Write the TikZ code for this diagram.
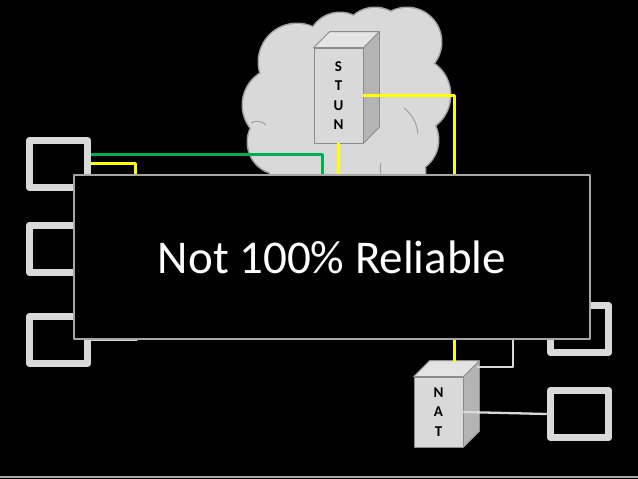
\documentclass[tikz,border=0pt]{standalone}
\usepackage{fontspec}
\setmainfont{Carlito}
\definecolor{lite}{HTML}{D9D9D9}
\definecolor{cloudrim}{HTML}{A0A0A0}
\definecolor{rim}{HTML}{A6A6A6}
\definecolor{facetop}{HTML}{E4E4E4}
\definecolor{faceside}{HTML}{B4B4B4}
\definecolor{edge}{HTML}{8C8C8C}
\definecolor{wire}{HTML}{FFFF00}
\definecolor{link}{HTML}{00B050}
\begin{document}
\begin{tikzpicture}[x=1pt, y=-1pt, line join=round,
    host/.style={draw=lite, line width=7.5pt, minimum width=58pt, minimum height=47pt, inner sep=0pt},
    server/.style={draw=edge, fill=lite, line width=.8pt, minimum width=49pt, inner sep=0pt,
        align=center, font=\bfseries\fontsize{15}{19.5}\selectfont},
    yel/.style={draw=wire, line width=3pt},
    grn/.style={draw=link, line width=3pt},
    gry/.style={draw=lite, line width=2.3pt}]
    \useasboundingbox (0,0) rectangle (638,479);
    \fill[black] (0,0) rectangle (638,479);
    % cloud
    \foreach \x/\y/\r in {297/62/38, 340/45/32, 375/40/32, 407/42/34, 412/95/38, 405/140/33,
        280/105/37, 280/142/32, 350/110/60, 345/178/60, 300/172/30, 395/172/30}
        \fill[cloudrim] (\x,\y) circle[radius=\r pt+1.5pt];
    \foreach \x/\y/\r in {297/62/38, 340/45/32, 375/40/32, 407/42/34, 412/95/38, 405/140/33,
        280/105/37, 280/142/32, 350/110/60, 345/178/60, 300/172/30, 395/172/30}
        \fill[lite] (\x,\y) circle[radius=\r pt];
    \draw[cloudrim, line width=1pt]
        (251,123) .. controls (256,120) and (262,121) .. (266,125)
        (404,108) .. controls (412,114) and (417,123) .. (418,134)
        (381,163) .. controls (380,166) and (380,170) .. (381,174);
    % hosts
    \node[host] (host1) at (58.5,164) {};
    \node[host] (host2) at (58.5,249) {};
    \node[host] (host3) at (58.5,340) {};
    \node[host] (host4) at (579.5,329) {};
    \node[host] (host5) at (579.5,414) {};
    % servers
    \node[server, minimum height=95pt] (stun) at (338.5,95.5) {S\\T\\U\\N};
    \node[server, minimum height=70pt] (nat) at (438.5,412) {N\\A\\T};
    \foreach \n in {stun,nat}{
        \filldraw[fill=faceside, draw=edge, line width=.8pt] (\n.north east) -- ([shift={(16,-16)}]\n.north east)
            -- ([shift={(16,-16)}]\n.south east) -- (\n.south east) -- cycle;
        \filldraw[fill=facetop, draw=edge, line width=.8pt] (\n.north west) -- ([shift={(16,-16)}]\n.north west)
            -- ([shift={(16,-16)}]\n.north east) -- (\n.north east) -- cycle;
    }
    % links
    \coordinate (g1) at (322,200);
    \coordinate (y1) at (135,200);
    \coordinate (natin) at (454,362);
    \coordinate (h3) at (137,300);
    \coordinate (natout) at (477,367);
    \coordinate (h4) at (513,320);
    \draw[grn] ([yshift=10pt]host1.east) -| (g1);
    \draw[yel] ([yshift=1pt]host1.east) -| (y1);
    \draw[yel] (stun.south) -- ++(0,60);
    \draw[yel] (stun.east) -| (natin);
    \draw[gry] (host3.east) -| (h3);
    \draw[gry] (natout) -| (h4);
    \draw[gry] (nat.east) -- (host5.west);
    % banner
    \node[draw=rim, fill=black, line width=1.5pt, minimum width=516pt, minimum height=164pt,
        text=white, font=\fontsize{47}{56}\selectfont] (msg) at (332,257) {Not 100\% Reliable};
    \draw[rim, line width=1.5pt] (0,477) -- (638,477);
\end{tikzpicture}
\end{document}
